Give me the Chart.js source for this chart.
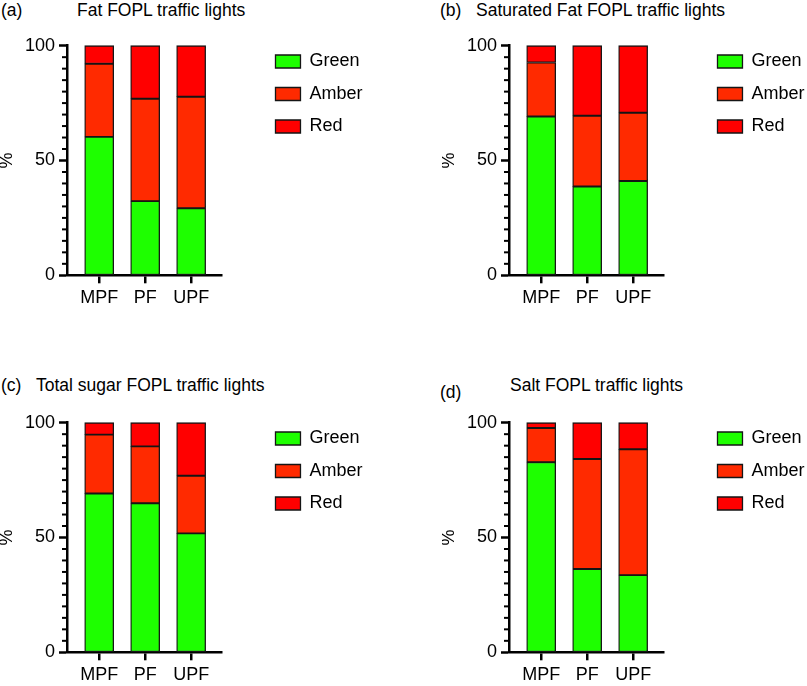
<!DOCTYPE html>
<html>
<head>
<meta charset="utf-8">
<script src="https://cdn.jsdelivr.net/npm/chart.js@4"></script>
<style>
  html, body { margin: 0; padding: 0; background: #fff; }
  body { width: 807px; height: 686px; position: relative; overflow: hidden; font-family: 'Liberation Sans', Arial, sans-serif; }
  canvas { position: absolute; }
  .lbl { position: absolute; font-size: 17.5px; line-height: 20px; color: #000; white-space: nowrap; }
</style>
</head>
<body>
<div class="lbl" style="left:1px;top:0px">(a)</div>
<div class="lbl" style="left:77px;top:0px">Fat FOPL traffic lights</div>
<div class="lbl" style="left:440px;top:0px">(b)</div>
<div class="lbl" style="left:476px;top:0px">Saturated Fat FOPL traffic lights</div>
<div class="lbl" style="left:1px;top:375px">(c)</div>
<div class="lbl" style="left:36px;top:375px">Total sugar FOPL traffic lights</div>
<div class="lbl" style="left:440px;top:382px">(d)</div>
<div class="lbl" style="left:510px;top:375px">Salt FOPL traffic lights</div>

<canvas id="chartA" width="400" height="310" style="left:0px;top:0px"></canvas>
<canvas id="chartB" width="400" height="310" style="left:442px;top:0px"></canvas>
<canvas id="chartC" width="400" height="310" style="left:0px;top:377px"></canvas>
<canvas id="chartD" width="400" height="310" style="left:442px;top:377px"></canvas>

<script>
const categories = ['MPF', 'PF', 'UPF'];
const seriesNames = ['Green', 'Amber', 'Red'];

// (a) fat
const fatGreen = [60.3, 32.3, 29.2];
const fatAmber = [31.8, 44.6, 48.6];
const fatRed = [7.9, 23.1, 22.2];

// (b) saturated fat
const satGreen = [69.2, 38.7, 41.1];
const satAmber = [23.5, 30.8, 29.7];
const satRed = [7.3, 30.5, 29.2];

// (c) total sugar
const sugarGreen = [69.2, 64.9, 51.8];
const sugarAmber = [25.6, 24.8, 25.1];
const sugarRed = [5.2, 10.3, 23.1];

// (d) salt
const saltGreen = [82.8, 36.3, 33.6];
const saltAmber = [14.9, 47.9, 54.8];
const saltRed = [2.3, 15.8, 11.6];

const fills = ['#1eff00', '#ff2a00', '#ff0000'];

Chart.defaults.font.family = "'Liberation Sans', Arial, sans-serif";
Chart.defaults.color = '#000';

// short ticks every 5 on the y axis
const minorTicks = {
  id: 'minorTicks',
  afterDraw(chart) {
    const y = chart.scales.y;
    const ctx = chart.ctx;
    ctx.save();
    ctx.strokeStyle = '#000';
    ctx.lineWidth = 2;
    for (let v = 5; v < 100; v += 5) {
      if (v % 50 === 0) continue;
      const py = y.getPixelForValue(v);
      ctx.beginPath();
      ctx.moveTo(y.right - 5, py);
      ctx.lineTo(y.right, py);
      ctx.stroke();
    }
    ctx.restore();
  }
};

function makeChart(id, green, amber, red) {
  const series = [green, amber, red];
  const datasets = series.map((vals, i) => ({
    label: seriesNames[i],
    data: vals.map((v, j) => ({x: j, y: v})),
    backgroundColor: fills[i],
    borderColor: '#151515',
    borderWidth: 1.3,
    borderSkipped: false,
    barThickness: 29,
    clip: false
  }));

  return new Chart(document.getElementById(id), {
    type: 'bar',
    data: {datasets: datasets},
    options: {
      responsive: false,
      animation: false,
      devicePixelRatio: 1,
      layout: {padding: {top: 38, left: 0, right: 27.5, bottom: 0.7}},
      plugins: {
        legend: {
          position: 'right',
          align: 'start',
          maxWidth: 300,
          labels: {boxWidth: 25, boxHeight: 13, padding: 14.5, color: '#000', font: {size: 18}}
        },
        tooltip: {enabled: false}
      },
      scales: {
        x: {
          type: 'linear',
          stacked: true,
          offset: false,
          min: -0.7,
          max: 2.66,
          afterBuildTicks: s => { s.ticks = categories.map((c, i) => ({value: i})); },
          ticks: {callback: v => categories[v], color: '#000', font: {size: 18}, padding: 4, maxRotation: 0, autoSkip: false},
          grid: {display: true, offset: false, drawOnChartArea: false, drawTicks: true, tickLength: 8, tickWidth: 2.5, tickColor: '#000', color: '#000', lineWidth: 2.5},
          border: {display: true, color: '#000', width: 2.5},
          afterFit: s => { s.height = 34; }
        },
        y: {
          stacked: true,
          min: 0,
          max: 100,
          ticks: {stepSize: 50, color: '#000', font: {size: 18}, padding: 4},
          grid: {drawOnChartArea: false, tickLength: 8, tickWidth: 2.5, tickColor: '#000', color: '#000'},
          border: {color: '#000', width: 2.5},
          title: {display: true, text: '%', color: '#000', font: {size: 18, lineHeight: 0.8}, padding: 0},
          afterFit: s => { s.width = 67; s.paddingTop = 45.7; s.paddingBottom = 0; }
        },
        gap: {
          type: 'linear',
          position: 'right',
          display: true,
          grid: {display: false},
          border: {display: false},
          ticks: {display: false},
          afterFit: s => { s.width = 39.5; }
        }
      }
    },
    plugins: [minorTicks]
  });
}

makeChart('chartA', fatGreen, fatAmber, fatRed);
makeChart('chartB', satGreen, satAmber, satRed);
makeChart('chartC', sugarGreen, sugarAmber, sugarRed);
makeChart('chartD', saltGreen, saltAmber, saltRed);
</script>
</body>
</html>
